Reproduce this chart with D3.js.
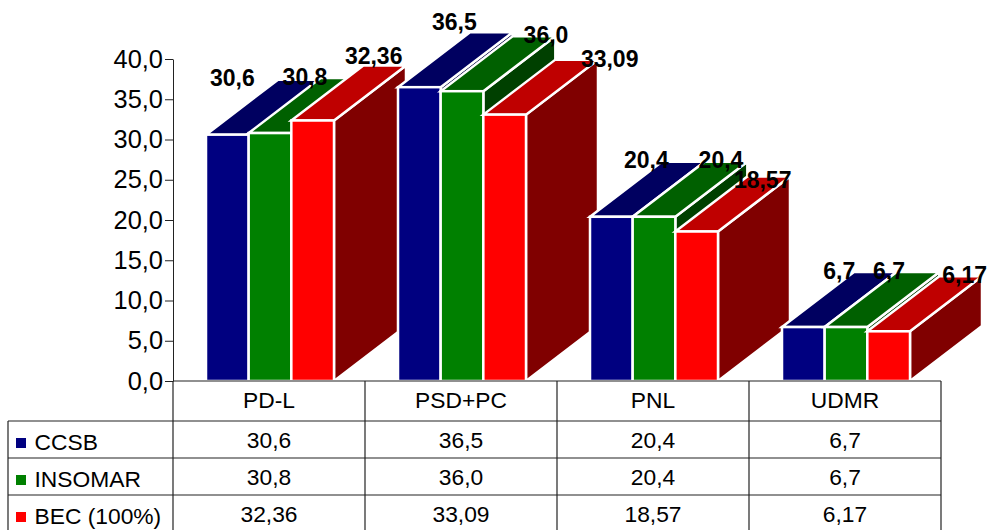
<!DOCTYPE html>
<html lang="en">

<head>
    <meta charset="utf-8">
    <title>D3 chart</title>
    <script src="https://d3js.org/d3.v7.min.js"></script>
    <style>
        html, body { margin: 0; padding: 0; background: #fff; overflow: hidden; }
        text { font-family: "Liberation Sans", Arial, sans-serif; fill: #000; }
    </style>
</head>

<body>
    <script type="text/javascript">
        var categories = ['PD-L', 'PSD+PC', 'PNL', 'UDMR'];
        var seriesNames = ['CCSB', 'INSOMAR', 'BEC (100%)'];
        var ccsb = [30.6, 36.5, 20.4, 6.7];
        var insomar = [30.8, 36.0, 20.4, 6.7];
        var bec = [32.36, 33.09, 18.57, 6.17];
        var ccsbText = ['30,6', '36,5', '20,4', '6,7'];
        var insomarText = ['30,8', '36,0', '20,4', '6,7'];
        var becText = ['32,36', '33,09', '18,57', '6,17'];
        var yTicks = [0, 5, 10, 15, 20, 25, 30, 35, 40];

        var allValues = [ccsb, insomar, bec];
        var allText = [ccsbText, insomarText, becText];

        // colours: front, top, side
        var colors = [
            ['#000080', '#000060', '#000040'],
            ['#008000', '#006000', '#004000'],
            ['#ff0000', '#bf0000', '#800000']
        ];

        // the labels were moved by hand in the original, so each one has its own nudge
        var labelNudge = [
            [[5, -49], [35, -48], [61, -57]],
            [[35, -57], [84, -48], [105, -48]],
            [[35, -49], [67, -49], [66, -44]],
            [[36, -48], [43, -48], [76, -48]]
        ];

        var width = 987, height = 530;
        var axisX = 173, tableRight = 941, tableLeft = 8;
        var y0 = 381, yTop = 59;
        var depthX = 72, depthY = 55;
        var rowLines = [421, 458, 495, 532];

        var svg = d3.select('body')
            .append('svg')
            .attr('width', width)
            .attr('height', height)
            .style('display', 'block');

        var xScale = d3.scaleBand().domain(categories).range([axisX, tableRight]);
        var barScale = d3.scaleBand().domain(d3.range(3)).range([33, 161]);
        var yScale = d3.scaleLinear().domain([0, 40]).range([y0, yTop]);

        // bars, left to right so the later ones cover the earlier sides
        categories.forEach(function (cat, c) {
            allValues.forEach(function (values, s) {
                var x1 = xScale(cat) + barScale(s);
                var x2 = x1 + barScale.bandwidth();
                var y1 = yScale(values[c]);
                var g = svg.append('g')
                    .attr('stroke', '#fff')
                    .attr('stroke-width', 2.5)
                    .attr('stroke-linejoin', 'miter');
                g.append('path')
                    .attr('fill', colors[s][2])
                    .attr('d', 'M' + x2 + ',' + y0 + 'V' + y1 + 'l' + depthX + ',' + (-depthY) + 'V' + (y0 - depthY) + 'Z');
                g.append('path')
                    .attr('fill', colors[s][1])
                    .attr('d', 'M' + x1 + ',' + y1 + 'l' + depthX + ',' + (-depthY) + 'H' + (x2 + depthX) + 'L' + x2 + ',' + y1 + 'Z');
                g.append('rect')
                    .attr('fill', colors[s][0])
                    .attr('x', x1)
                    .attr('y', y1)
                    .attr('width', x2 - x1)
                    .attr('height', y0 - y1);
            });
        });

        // value labels on top of everything
        categories.forEach(function (cat, c) {
            allValues.forEach(function (values, s) {
                svg.append('text')
                    .attr('x', xScale(cat) + barScale(s) + barScale.bandwidth() / 2 + labelNudge[c][s][0])
                    .attr('y', yScale(values[c]) + labelNudge[c][s][1])
                    .attr('text-anchor', 'middle')
                    .attr('font-size', 23)
                    .attr('font-weight', 'bold')
                    .text(allText[s][c]);
            });
        });

        var yAxis = d3.axisLeft(yScale)
            .tickValues(yTicks)
            .tickSize(8)
            .tickSizeOuter(0)
            .tickPadding(2)
            .tickFormat(function (d) { return d3.format('.1f')(d).replace('.', ','); });
        var axisG = svg.append('g')
            .attr('transform', 'translate(' + axisX + ',0)')
            .call(yAxis);
        axisG.selectAll('text').attr('font-size', 25.4).style('font-family', '"Liberation Sans", Arial, sans-serif');
        axisG.selectAll('line, path').attr('stroke', '#222');

        // data table under the plot
        var table = svg.append('g').attr('stroke', '#222').attr('stroke-width', 1.2);
        table.append('line').attr('x1', axisX).attr('x2', tableRight).attr('y1', y0).attr('y2', y0);
        rowLines.forEach(function (y) {
            table.append('line').attr('x1', tableLeft).attr('x2', tableRight).attr('y1', y).attr('y2', y);
        });
        table.append('line').attr('x1', tableLeft).attr('x2', tableLeft).attr('y1', rowLines[0]).attr('y2', height + 2);
        categories.forEach(function (cat) {
            table.append('line').attr('x1', xScale(cat)).attr('x2', xScale(cat)).attr('y1', y0).attr('y2', height + 2);
        });
        table.append('line').attr('x1', tableRight).attr('x2', tableRight).attr('y1', y0).attr('y2', height + 2);

        categories.forEach(function (cat) {
            svg.append('text')
                .attr('x', xScale(cat) + xScale.bandwidth() / 2)
                .attr('y', 408)
                .attr('text-anchor', 'middle')
                .attr('font-size', 22.8)
                .text(cat);
        });

        seriesNames.forEach(function (name, s) {
            var rowY = rowLines[s];
            svg.append('rect')
                .attr('x', 16)
                .attr('y', rowY + 17)
                .attr('width', 10)
                .attr('height', 10)
                .attr('fill', colors[s][0]);
            svg.append('text')
                .attr('x', 34.5)
                .attr('y', rowY + 29)
                .attr('font-size', 22.8)
                .text(name);
            categories.forEach(function (cat, c) {
                svg.append('text')
                    .attr('x', xScale(cat) + xScale.bandwidth() / 2)
                    .attr('y', rowY + 27)
                    .attr('text-anchor', 'middle')
                    .attr('font-size', 22.8)
                    .text(allText[s][c]);
            });
        });
    </script>
</body>

</html>
